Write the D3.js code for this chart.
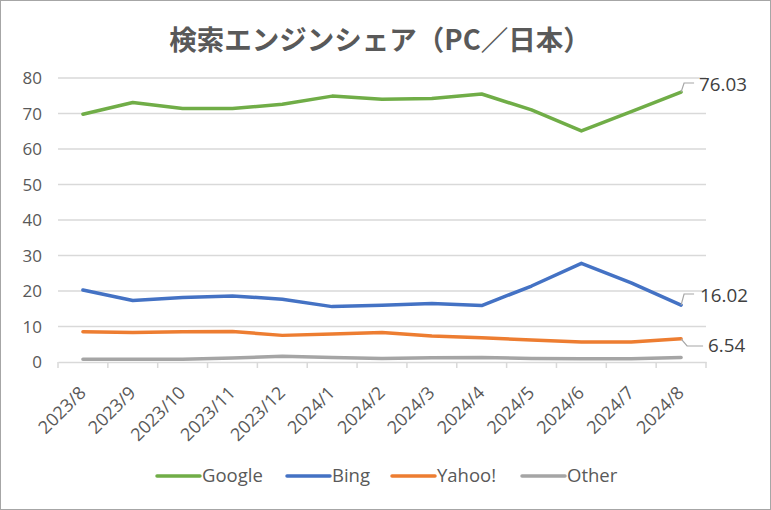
<!DOCTYPE html>
<html><head><meta charset="utf-8">
<script src="https://cdn.jsdelivr.net/npm/d3@7"></script>
<style>body{margin:0;background:#fff}svg{display:block}</style>
</head><body><svg id="c" width="771" height="510"></svg>
<script>
const categories = ["2023/8","2023/9","2023/10","2023/11","2023/12","2024/1","2024/2","2024/3","2024/4","2024/5","2024/6","2024/7","2024/8"];
const google = [69.8,73.1,71.4,71.4,72.6,74.9,74.0,74.2,75.5,71.0,65.1,70.5,76.03];
const bing   = [20.3,17.3,18.2,18.6,17.7,15.6,16.0,16.5,15.9,21.4,27.8,22.3,16.02];
const yahoo  = [8.5,8.3,8.5,8.6,7.5,7.9,8.3,7.3,6.8,6.2,5.6,5.6,6.54];
const other  = [0.8,0.8,0.8,1.1,1.6,1.3,1.0,1.2,1.3,1.0,0.9,0.9,1.3];
const yTicks = [0,10,20,30,40,50,60,70,80];
const seriesNames = ["Google","Bing","Yahoo!","Other"];
const colors = ["#70AD47","#4472C4","#ED7D31","#A5A5A5"];
const title = "検索エンジンシェア（PC／日本）";

const series = [google,bing,yahoo,other];
const svg = d3.select("#c");
const font = "'Open Sans','Noto Sans',sans-serif";
const cjk = "'Noto Sans CJK JP',sans-serif";
svg.append("rect").attr("x",0.5).attr("y",0.5).attr("width",770).attr("height",509).attr("fill","#fff").attr("stroke","#a6a6a6");

const x = d3.scaleBand().domain(categories).range([58,706]);
const y = d3.scaleLinear().domain([0,80]).range([362,78]);

svg.append("text").attr("x",380).attr("y",50).attr("text-anchor","middle")
  .attr("font-family",cjk).attr("font-size",27.5).attr("font-weight","bold").attr("fill","#595959").text(title);

const gy = svg.append("g");
yTicks.forEach(t=>{
  if(t>0) gy.append("line").attr("x1",58).attr("x2",706).attr("y1",y(t)).attr("y2",y(t)).attr("stroke","#d9d9d9").attr("stroke-width",1.5);
  gy.append("text").attr("x",42).attr("y",y(t)+6).attr("text-anchor","end").attr("font-family",font).attr("font-size",17).attr("fill","#595959").text(t);
});
const xa = d3.axisBottom(x).tickSize(0).tickFormat("");
svg.append("g").attr("transform","translate(0,362)").call(xa).call(g=>g.select(".domain").attr("stroke","#d9d9d9").attr("stroke-width",1.5));
const bounds = categories.map(c=>x(c)).concat([x.range()[1]]);
svg.append("g").selectAll("line").data(bounds).join("line")
  .attr("x1",d=>d).attr("x2",d=>d).attr("y1",362).attr("y2",368).attr("stroke","#d9d9d9").attr("stroke-width",1.5);
svg.append("g").selectAll("text").data(categories).join("text")
  .attr("transform",d=>`translate(${x(d)+x.bandwidth()/2+4},${394}) rotate(-45)`)
  .attr("text-anchor","end").attr("font-family",font).attr("font-size",18).attr("fill","#595959").text(d=>d);

const line = d3.line().x((d,i)=>x(categories[i])+x.bandwidth()/2).y(d=>y(d));
[3,2,1,0].forEach(k=>{
  svg.append("path").datum(series[k]).attr("d",line).attr("fill","none").attr("stroke",colors[k]).attr("stroke-width",3.5).attr("stroke-linejoin","round").attr("stroke-linecap","round");
});

// data labels
const lx = x(categories[12])+x.bandwidth()/2;
const labels = [{v:google[12],ty:91,dx:18},{v:bing[12],ty:302,dx:19},{v:yahoo[12],ty:352,dx:27}];
labels.forEach((l,i)=>{
  const py=y(l.v);
  if(i<2){
    svg.append("path").attr("d",`M${lx},${py} L${lx+3},${l.ty-8} L${lx+13},${l.ty-8}`).attr("fill","none").attr("stroke","#a6a6a6").attr("stroke-width",1.2);
  } else {
    svg.append("path").attr("d",`M${lx},${py} L${lx+6},${l.ty-6} L${lx+22},${l.ty-6}`).attr("fill","none").attr("stroke","#a6a6a6").attr("stroke-width",1.2);
  }
  svg.append("text").attr("x",lx+l.dx).attr("y",l.ty).attr("font-family",font).attr("font-size",18.8).attr("fill","#404040").text(l.v.toFixed(2));
});

// legend
const legX=[157,287,392,522];
seriesNames.forEach((n,i)=>{
  svg.append("line").attr("x1",legX[i]).attr("x2",legX[i]+43).attr("y1",476).attr("y2",476).attr("stroke",colors[i]).attr("stroke-width",3.5).attr("stroke-linecap","round");
  svg.append("text").attr("x",legX[i]+45).attr("y",482).attr("font-family",font).attr("font-size",18.5).attr("fill","#595959").text(n);
});
</script></body></html>
